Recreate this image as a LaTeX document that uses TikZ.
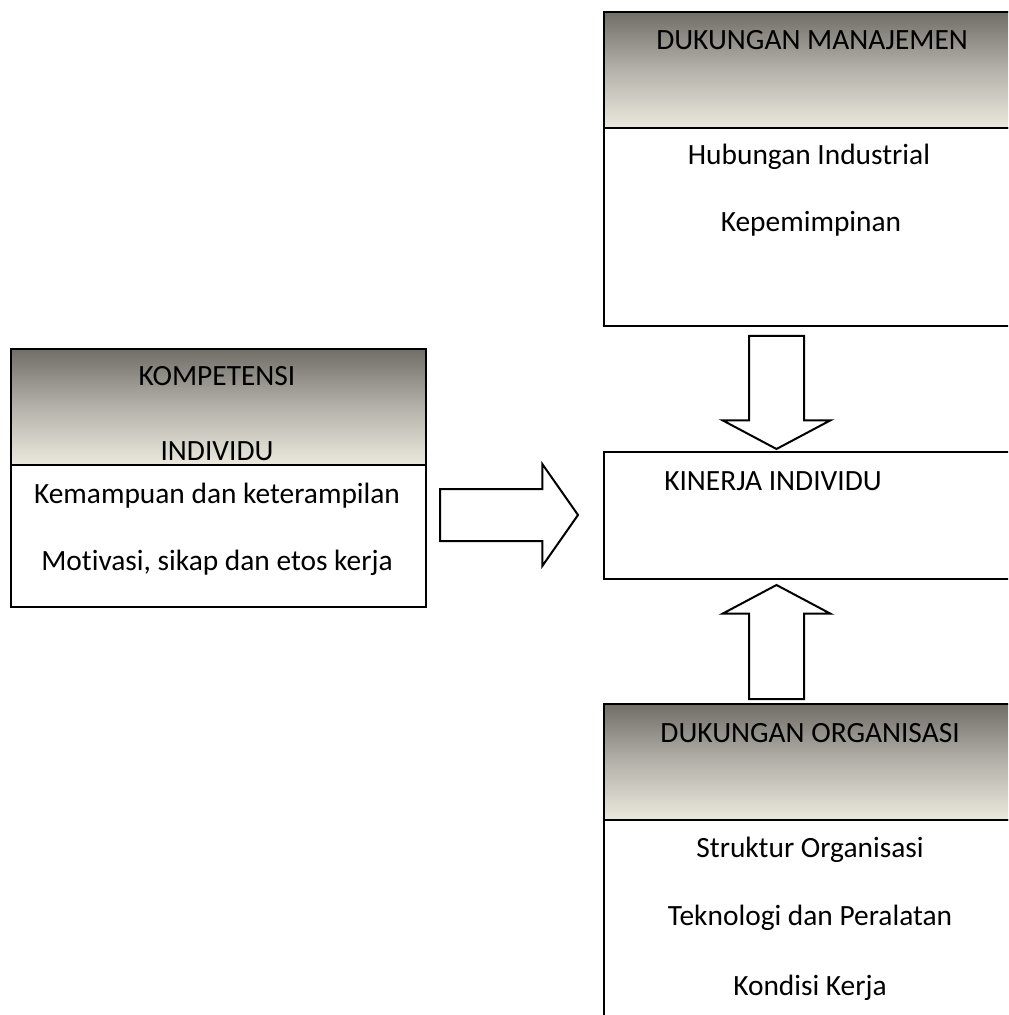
\documentclass[tikz,border=0pt]{standalone}
\usepackage{fontspec}
\setmainfont{Carlito}[Ligatures={NoCommon}]
\usetikzlibrary{shapes.arrows}

\definecolor{hdTop}{RGB}{112,110,102}
\definecolor{hdMid}{RGB}{180,178,170}
\definecolor{hdBot}{RGB}{236,233,222}

\tikzset{
  hdr/.style={draw, line width=1pt, anchor=north west, inner sep=0pt, top color=hdTop, bottom color=hdBot, middle color=hdMid},
  bodybox/.style={draw, line width=1pt, fill=white, anchor=north west, inner sep=0pt},
  txt/.style={anchor=base, inner sep=0pt, font=\fontsize{14.7}{16}\selectfont},
  blockarrow/.style={single arrow, draw, line width=1pt, fill=white, inner sep=0pt, single arrow head indent=0pt, anchor=tail}
}

\begin{document}
\begin{tikzpicture}[x=0.5pt, y=-0.5pt]
  \useasboundingbox (0,0) rectangle (1008,1015);
  \clip (0,0) rectangle (1008,1015);
  % boxes
  \node[hdr, minimum width=207pt, minimum height=58pt] (manH) at (603,11) {};
  \node[bodybox, minimum width=207pt, minimum height=99pt] (manB) at (603,127) {};
  \node[hdr, minimum width=207.5pt, minimum height=58pt] (komH) at (10,348) {};
  \node[bodybox, minimum width=207.5pt, minimum height=71pt] (komB) at (10,464) {};
  \node[bodybox, minimum width=207pt, minimum height=63.5pt] (kin) at (603,451) {};
  \node[hdr, minimum width=207pt, minimum height=58pt] (orgH) at (603,703) {};
  \node[bodybox, minimum width=207pt, minimum height=110pt] (orgB) at (603,819) {};
  % texts
  \node[txt] (manT) at (812,50) {DUKUNGAN MANAJEMEN};
  \node[txt] (hub) at (809,165) {Hubungan Industrial};
  \node[txt] (kep) at (811,232) {Kepemimpinan};
  \node[txt] (komT) at (217,386) {KOMPETENSI};
  \node[txt] (indT) at (217,460) {INDIVIDU};
  \node[txt] (kem) at (217,503) {Kemampuan dan keterampilan};
  \node[txt] (mot) at (217,570) {Motivasi, sikap dan etos kerja};
  \node[txt] (kinT) at (773,490) {KINERJA INDIVIDU};
  \node[txt] (orgT) at (810,742) {DUKUNGAN ORGANISASI};
  \node[txt] (str) at (810,857) {Struktur Organisasi};
  \node[txt] (tek) at (810,925) {Teknologi dan Peralatan};
  \node[txt] (kon) at (810,995) {Kondisi Kerja};
  % arrows
  \node[blockarrow, inner xsep=13.25pt, minimum height=56.5pt, single arrow head extend=13.25pt, single arrow tip angle=124, shape border rotate=270] (arrM) at (776.5,335) {};
  \node[blockarrow, inner ysep=12.5pt, minimum height=69pt, single arrow head extend=12.5pt, single arrow tip angle=110] (arrK) at (439,515) {};
  \node[blockarrow, inner xsep=13.25pt, minimum height=57pt, single arrow head extend=13.25pt, single arrow tip angle=124, shape border rotate=90] (arrO) at (776.5,700) {};
\end{tikzpicture}
\end{document}
